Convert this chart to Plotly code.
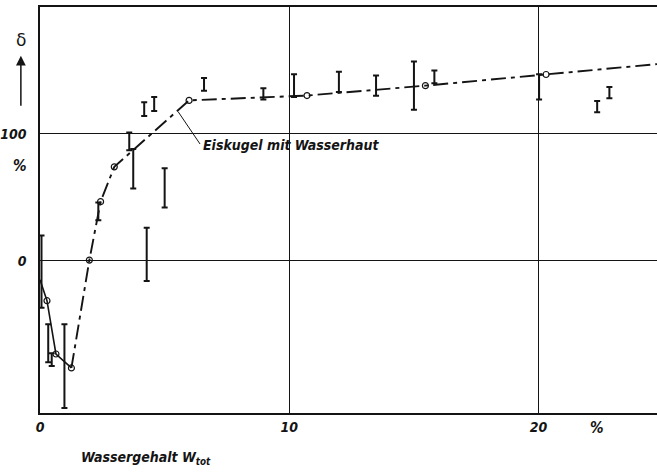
import plotly.graph_objects as go

# ---- data ----
curve_x = [0.0, 0.28, 0.64, 1.26, 1.98, 2.43, 2.98, 5.98, 10.71, 15.46, 20.3, 24.75]
curve_y = [-15, -31.5, -73.5, -84.5, 0.5, 46.6, 74, 126.4, 130.2, 138, 146.8, 155]
circle_idx = list(range(1, 11))
solid_end = 3  # curve drawn solid up to this index, dash-dot afterwards

bar_x = [0.06, 0.33, 0.47, 0.98, 2.34, 3.58, 3.74, 4.18, 4.28, 4.58, 5.0,
         6.58, 8.96, 10.19, 11.99, 13.48, 15.0, 15.82, 20.02, 22.35, 22.84]
bar_lo = [-37, -80, -83, -116, 32, 87, 57, 114, -16, 118, 42,
          134, 127, 129, 133, 130, 119, 140, 127, 117, 128]
bar_hi = [20, -50, -73, -50, 46, 101, 88, 125, 26, 129, 73,
          144, 136, 147, 149, 146, 157, 150, 147, 126, 137]

x_tickvals = [0, 10, 20]
x_ticktext = ["0", "10", "20"]
y_tickvals = [0, 100]
y_ticktext = ["0", "100"]

label_curve = "Eiskugel mit Wasserhaut"
label_x = "Wassergehalt W<sub>tot</sub>"
label_y = "δ"

INK = "#141414"
FONT = "Liberation Sans Narrow, DejaVu Sans Condensed, Arial Narrow, sans-serif"

fig = go.Figure()

# error bars (vertical intervals with serifs)
mid = [(a + b) / 2 for a, b in zip(bar_lo, bar_hi)]
half = [(b - a) / 2 for a, b in zip(bar_lo, bar_hi)]
fig.add_trace(go.Scatter(
    x=bar_x, y=mid, mode="markers",
    marker=dict(size=1, opacity=0),
    error_y=dict(type="data", array=half, symmetric=True,
                 color=INK, thickness=2, width=3),
    showlegend=False, hoverinfo="skip"))

# curve: solid start, dash-dot remainder
fig.add_trace(go.Scatter(
    x=curve_x[:solid_end + 1], y=curve_y[:solid_end + 1], mode="lines",
    line=dict(color=INK, width=1.6), showlegend=False))
fig.add_trace(go.Scatter(
    x=curve_x[solid_end:], y=curve_y[solid_end:], mode="lines",
    line=dict(color=INK, width=1.9, dash="15px,5px,4px,5px"), showlegend=False))
fig.add_trace(go.Scatter(
    x=[curve_x[i] for i in circle_idx], y=[curve_y[i] for i in circle_idx],
    mode="markers",
    marker=dict(symbol="circle-open", size=6, color=INK, line=dict(width=1.2)),
    showlegend=False))

# leader line + curve label
fig.add_shape(type="line", x0=6.42, y0=92, x1=5.54, y1=117.5,
              line=dict(color=INK, width=1))
fig.add_annotation(x=6.45, y=91, text=label_curve, showarrow=False,
                   xanchor="left", yanchor="middle",
                   font=dict(family=FONT, size=14, color=INK, style="italic", weight="bold"))

# axis extras
fig.add_annotation(xref="paper", yref="paper", x=0.172, y=-0.112, text=label_x,
                   showarrow=False, xanchor="center", yanchor="middle",
                   font=dict(family=FONT, size=14, color=INK, style="italic", weight="bold"))
fig.add_annotation(x=22.35, yref="paper", y=-0.037, text="%", showarrow=False,
                   xanchor="center", yanchor="middle",
                   font=dict(family=FONT, size=15, color=INK, style="italic", weight="bold"))
fig.add_annotation(xref="paper", x=-0.033, y=75, text="%", showarrow=False,
                   xanchor="center", yanchor="middle",
                   font=dict(family=FONT, size=15, color=INK, style="italic", weight="bold"))
fig.add_annotation(xref="paper", x=-0.031, y=174, text=label_y, showarrow=False,
                   xanchor="center", yanchor="middle",
                   font=dict(family="DejaVu Sans, sans-serif", size=17, color=INK))
fig.add_annotation(xref="paper", x=-0.031, y=161.5, text=" ", showarrow=True,
                   ax=0, ay=52, arrowhead=2, arrowsize=1.3, arrowwidth=1.5,
                   arrowcolor=INK, font=dict(size=1))

tickfont = dict(family=FONT, size=14, color=INK, style="italic", weight="bold")
fig.update_layout(
    width=657, height=472,
    margin=dict(l=40, r=0, t=7, b=59, autoexpand=False),
    paper_bgcolor="white", plot_bgcolor="white",
    xaxis=dict(range=[0, 24.75], tickvals=x_tickvals, ticktext=x_ticktext,
               showgrid=True, gridcolor=INK, gridwidth=1, zeroline=False,
               showline=True, linecolor=INK, linewidth=1.5, mirror=True,
               ticks="", tickfont=tickfont, ticklabelstandoff=0, automargin=False),
    yaxis=dict(range=[-120, 200], tickvals=y_tickvals, ticktext=y_ticktext,
               showgrid=True, gridcolor=INK, gridwidth=1, zeroline=False,
               showline=True, linecolor=INK, linewidth=1.5,
               ticks="", tickfont=tickfont, ticklabelstandoff=9, automargin=False),
)

fig.write_html("out.html")
